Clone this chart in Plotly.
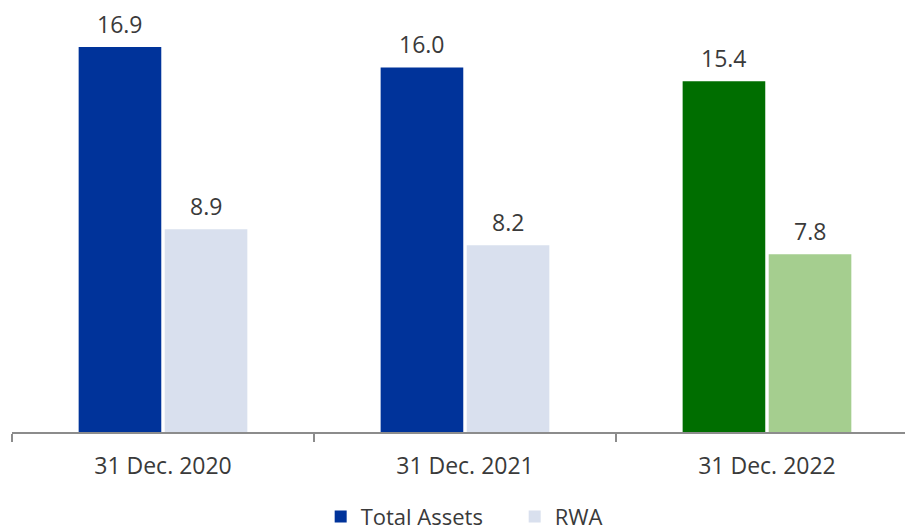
import plotly.graph_objects as go

categories = ["31 Dec. 2020", "31 Dec. 2021", "31 Dec. 2022"]
total_assets = [16.9, 16.0, 15.4]
rwa = [8.9, 8.2, 7.8]
total_colors = ["#00339a", "#00339a", "#006e00"]
rwa_colors = ["#d9e0ee", "#d9e0ee", "#a5ce8f"]

FONT = "Open Sans"
TXT = "#3a3a3a"
FS = 23

fig = go.Figure()
fig.add_trace(go.Bar(
    name="Total Assets", x=categories, y=total_assets, offsetgroup="a",
    marker=dict(color=total_colors, line=dict(width=0)),
))
fig.add_trace(go.Bar(
    name="RWA", x=categories, y=rwa, offsetgroup="b",
    marker=dict(color=rwa_colors, line=dict(width=0)),
))

# value labels, placed at each bar's position in data coordinates
slot = (1 - 0.43) / 2
for vals, off in ((total_assets, -slot / 2), (rwa, slot / 2)):
    for i, v in enumerate(vals):
        fig.add_annotation(
            x=i + off, y=v, xref="x", yref="y", text=f"{v:.1f}",
            showarrow=False, yanchor="middle", yshift=23, borderpad=0,
            font=dict(size=FS, color=TXT, family=FONT),
        )

fig.update_layout(
    width=913, height=532,
    margin=dict(l=4, r=0, t=0, b=108, autoexpand=False),
    paper_bgcolor="white", plot_bgcolor="white",
    barmode="group", bargap=0.43, bargroupgap=0.04,
    font=dict(family=FONT, size=FS, color=TXT),
    showlegend=True,
    legend=dict(orientation="h", x=0.553, xanchor="center", y=-0.2, yanchor="middle",
                font=dict(size=22, color=TXT, family=FONT), traceorder="normal",
                entrywidth=149, entrywidthmode="pixels"),
    xaxis=dict(
        range=[-0.5, 2.51], showline=True, linecolor="#8c8c8c", linewidth=2,
        ticks="outside", tickson="boundaries", ticklen=8, tickwidth=2, tickcolor="#8c8c8c",
        ticklabelstandoff=12,
        showgrid=False, zeroline=False, tickfont=dict(size=FS, color=TXT, family=FONT),
    ),
    yaxis=dict(range=[0, 18.61], visible=False, showgrid=False, zeroline=False),
)

fig.write_html("out.html")
